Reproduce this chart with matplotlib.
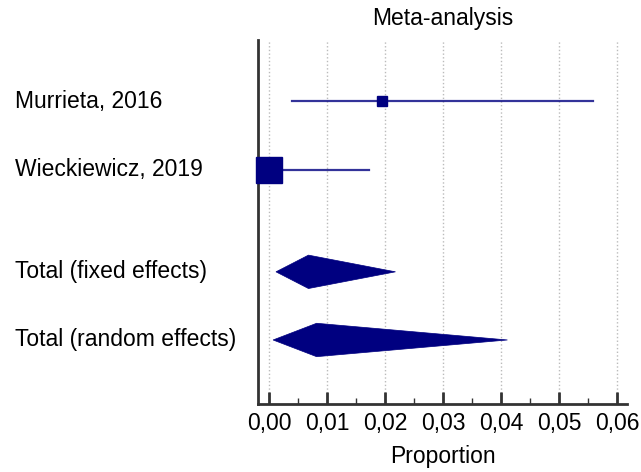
import numpy as np
import matplotlib.pyplot as plt
from matplotlib import transforms
from matplotlib.ticker import FuncFormatter, MultipleLocator

plt.rcParams['font.family'] = ['Liberation Sans', 'DejaVu Sans']

# studies
studies = ["Murrieta, 2016", "Wieckiewicz, 2019"]
study_est = [0.0194, 0.0000]
study_lo = [0.0040, 0.0000]
study_hi = [0.0558, 0.0172]
study_size = [6.5, 18.7]

# pooled estimates
totals = ["Total (fixed effects)", "Total (random effects)"]
tot_est = [0.0068, 0.0082]
tot_lo = [0.0012, 0.0007]
tot_hi = [0.0218, 0.0411]

xticks = [0.00, 0.01, 0.02, 0.03, 0.04, 0.05, 0.06]

navy = '#000080'
fs = 16.5
fig = plt.figure(figsize=(6.41, 4.72), dpi=100)
ax = fig.add_axes([0.4025, 0.144, 0.5755, 0.771])

study_y = [1, 2]
tot_y = [3.5, 4.5]

for y, e, lo, hi, s in zip(study_y, study_est, study_lo, study_hi, study_size):
    ax.plot([lo, hi], [y, y], color=navy, lw=1.6, alpha=0.8, zorder=3)
    ax.plot(e, y, marker='s', ms=s, color=navy, mec=navy, zorder=4, clip_on=False)

h = 0.245
for y, e, lo, hi in zip(tot_y, tot_est, tot_lo, tot_hi):
    ax.fill([lo, e, hi, e], [y, y - h, y, y + h], color=navy, lw=0.5, zorder=3)

ax.set_xlim(-0.0019, 0.0617)
ax.set_ylim(5.44, 0.10)
ax.set_xticks(xticks)
ax.xaxis.set_minor_locator(MultipleLocator(0.005))
ax.xaxis.set_major_formatter(FuncFormatter(lambda v, p: ('%.2f' % v).replace('.', ',')))
ax.tick_params(axis='x', which='major', direction='in', length=9, width=2, color='#333333',
               labelsize=fs, pad=6)
ax.tick_params(axis='x', which='minor', direction='in', length=4, width=1, color='#333333')
ax.set_yticks([])
ax.grid(axis='x', which='major', color='#bbbbbb', ls=':', lw=1)

for side in ['top', 'right']:
    ax.spines[side].set_visible(False)
for side in ['left', 'bottom']:
    ax.spines[side].set_linewidth(2)
    ax.spines[side].set_color('#333333')

ax.set_xlabel('Proportion', fontsize=fs, labelpad=7)
ax.set_title('Meta-analysis', fontsize=fs, pad=11)

trans = transforms.blended_transform_factory(fig.transFigure, ax.transData)
for lab, y in zip(studies + totals, study_y + tot_y):
    ax.text(15 / 641, y, lab, transform=trans, fontsize=fs, ha='left', va='center')

fig.savefig('out.png', dpi=100)
